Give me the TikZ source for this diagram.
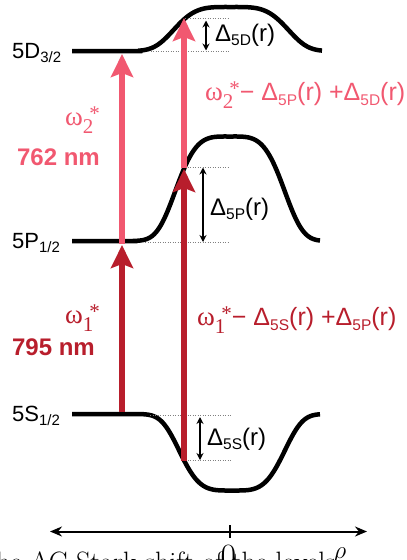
\documentclass[tikz,border=0pt]{standalone}
\usepackage{fontspec}
\newfontfamily\arial{Liberation Sans}
\newfontfamily\timesw{Liberation Serif}
\usetikzlibrary{arrows.meta}
\definecolor{pinkc}{RGB}{241,88,112}
\definecolor{redc}{RGB}{184,30,44}
\newcommand{\lsub}[1]{\raisebox{-0.22em}{\fontsize{15}{15}\selectfont #1}}
\newcommand{\dsub}[1]{\raisebox{-0.2em}{\fontsize{15.5}{15.5}\selectfont #1}}
\newcommand{\omg}[1]{{\timesw\fontsize{27}{27}\selectfont ω\raisebox{-8pt}{\fontsize{21}{21}\selectfont #1}\kern-4pt\raisebox{5pt}{\fontsize{21}{21}\selectfont *}}}
\begin{document}
\begin{tikzpicture}[x=1pt,y=-1pt,
  declare function={bump(\t)=exp(-((\t)*(\t))*((\t)*(\t)));},
  level/.style={line width=4.5pt},
  guide/.style={gray,line width=0.8pt,dash pattern=on 1pt off 1.5pt},
  delta/.style={line width=1.5pt,{Stealth[length=7pt,width=7pt]}-{Stealth[length=7pt,width=7pt]}},
  beam/.style={line width=6.5pt,-{Stealth[length=23pt,width=22pt,inset=4pt]}},
  lbl/.style={font=\arial\fontsize{22}{22}\selectfont,inner sep=0pt,anchor=base west},
  dl/.style={font=\arial\fontsize{24}{24}\selectfont,inner sep=0pt,anchor=base west},
  wl/.style={font=\arial\bfseries\fontsize{24}{24}\selectfont,inner sep=0pt,anchor=base east},
  om/.style={font=\arial\fontsize{25}{25}\selectfont,inner sep=0pt}]
\useasboundingbox (0,0) rectangle (407,560);
% levels
\draw[level] (72,51) -- (140,51) -- plot[domain=140:322,samples=120] (\x,{51-44*bump((\x-231)/62)});
\draw[level] (72,241) -- (135,241) -- plot[domain=135:320,samples=120] (\x,{241-104.5*bump((\x-230)/59)});
\draw[level] (72,414) -- (135,414) -- plot[domain=135:320,samples=120] (\x,{414+76.5*bump((\x-232)/57)});
% level labels
\node[lbl] (l5d) at (12,58) {5D\lsub{3/2}};
\node[lbl] (l5p) at (12,248) {5P\lsub{1/2}};
\node[lbl] (l5s) at (12,421) {5S\lsub{1/2}};
% coordinates
\coordinate (sL) at (122,412);
\coordinate (pL) at (122,244);
\coordinate (pL2) at (122,245);
\coordinate (dL) at (122,54);
\coordinate (sR) at (184,461);
\coordinate (pR) at (184,168);
\coordinate (pR2) at (184,169);
\coordinate (dR) at (184,18);
% guides
\coordinate (g1a) at (185,18); \coordinate (g1b) at (230,18);
\coordinate (g2a) at (148,51); \coordinate (g2b) at (230,51);
\coordinate (g3a) at (185,167); \coordinate (g3b) at (228,167);
\coordinate (g4a) at (145,242); \coordinate (g4b) at (228,242);
\coordinate (g5a) at (150,415); \coordinate (g5b) at (232,415);
\coordinate (g6a) at (185,460); \coordinate (g6b) at (232,460);
\draw[guide] (g1a) -- (g1b); \draw[guide] (g2a) -- (g2b);
\draw[guide] (g3a) -- (g3b); \draw[guide] (g4a) -- (g4b);
\draw[guide] (g5a) -- (g5b); \draw[guide] (g6a) -- (g6b);
% delta arrows
\coordinate (d1a) at (206,20.5); \coordinate (d1b) at (206,50.5);
\coordinate (d2a) at (203,167.5); \coordinate (d2b) at (203,242);
\coordinate (d3a) at (200,417); \coordinate (d3b) at (200,460);
\draw[delta] (d1a) -- (d1b);
\draw[delta] (d2a) -- (d2b);
\draw[delta] (d3a) -- (d3b);
\node[dl] (t5d) at (215,41) {Δ\dsub{5D}(r)};
\node[dl] (t5p) at (210,215) {Δ\dsub{5P}(r)};
\node[dl] (t5s) at (207,445) {Δ\dsub{5S}(r)};
% beams
\draw[beam,redc] (sL) -- (pL2);
\draw[beam,pinkc] (pL) -- (dL);
\draw[beam,redc] (sR) -- (pR2);
\draw[beam,pinkc] (pR) -- (dR);
% beam labels
\node[om,pinkc,anchor=base east] (w2) at (100,125) {\omg{2}};
\node[wl,pinkc] (nm2) at (100,165) {762 nm};
\node[om,redc,anchor=base east] (w1) at (100,323) {\omg{1}};
\node[wl,redc] (nm1) at (95,355) {795 nm};
\node[om,pinkc,anchor=base west] (e2) at (205,100) {\omg{2}−\ Δ\dsub{5P}(r) +Δ\dsub{5D}(r)};
\node[om,redc,anchor=base west] (e1) at (197,325) {\omg{1}−\ Δ\dsub{5S}(r) +Δ\dsub{5P}(r)};
% axis
\coordinate (axL) at (50,531.5); \coordinate (axR) at (367,531.5);
\coordinate (tkT) at (230,525); \coordinate (tkB) at (230,538);
\draw[line width=2pt,{Stealth[length=12pt,width=10pt]}-{Stealth[length=12pt,width=10pt]}] (axL) -- (axR);
\draw[line width=2.8pt] (tkT) -- (tkB);
\node[inner sep=0pt,anchor=base,font=\fontsize{34}{34}\selectfont] (zero) at (228.5,567) {0};
\node[inner sep=0pt,anchor=base,font=\fontsize{38}{38}\selectfont] (rho) at (340,558) {$\rho$};
\node[inner sep=0pt,anchor=base west,font=\fontsize{28}{28}\selectfont] (cap) at (-14,571) {the AC Stark shift of the levels};
\end{tikzpicture}
\end{document}
